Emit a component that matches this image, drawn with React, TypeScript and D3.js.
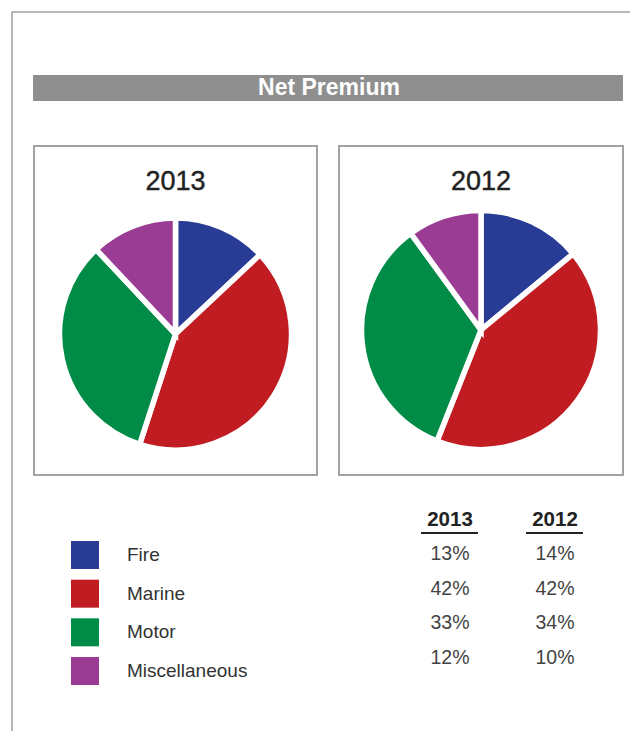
import React from "react";
import * as d3 from "d3";

const categories = ["Fire", "Marine", "Motor", "Miscellaneous"];
const colors = ["#283c96", "#c01c22", "#008c46", "#9a3c94"];
const years = ["2013", "2012"];
const values2013 = [13, 42, 33, 12];
const values2012 = [14, 42, 34, 10];
const seriesValues = [values2013, values2012];
const title = "Net Premium";

const W = 630;
const H = 731;

const font = "'Liberation Sans', Arial, Helvetica, sans-serif";

const panels = [
  { x: 34, y: 146, w: 283, h: 329, cx: 175.5, cy: 334, r: 116 },
  { x: 339, y: 146, w: 284, h: 329, cx: 481, cy: 330, r: 119.5 },
];

function Pie({ values, panel, year }) {
  const pie = d3.pie<number>().sort(null).value((d) => d);
  const arcs = pie(values);
  const arc = d3.arc<d3.PieArcDatum<number>>().innerRadius(0).outerRadius(panel.r);
  return (
    <g>
      <rect x={panel.x} y={panel.y} width={panel.w} height={panel.h} fill="#fff" stroke="#999" strokeWidth={1.8} />
      <text x={panel.x + panel.w / 2} y={panel.y + 44} textAnchor="middle" fontFamily={font} fontSize={27} fill="#222" stroke="#222" strokeWidth={0.4}>
        {year}
      </text>
      <g transform={`translate(${panel.cx},${panel.cy})`}>
        {arcs.map((a, i) => (
          <path key={i} d={arc(a) || ""} fill={colors[i]} stroke="#fff" strokeWidth={5.5} strokeLinejoin="miter" />
        ))}
      </g>
    </g>
  );
}

export default function App() {
  const legendY = d3.scaleLinear().domain([0, 3]).range([541, 657]);
  const rowY = d3.scaleLinear().domain([0, 3]).range([560, 664]);
  const colX = d3.scalePoint<string>().domain(years).range([450, 555]);
  return (
    <svg width={W} height={H} style={{ position: "absolute", left: 0, top: 0 }} xmlns="http://www.w3.org/2000/svg">
      <rect x={0} y={0} width={W} height={H} fill="#fff" />
      <path d={`M12,${H} L12,12 L${W},12`} fill="none" stroke="#a0a0a0" strokeWidth={1.5} />
      <rect x={33} y={75} width={590} height={26} fill="#8f8f8f" />
      <text x={329} y={95} textAnchor="middle" fontFamily={font} fontWeight="bold" fontSize={23} fill="#fff">
        {title}
      </text>
      {years.map((y, i) => (
        <Pie key={y} values={seriesValues[i]} panel={panels[i]} year={y} />
      ))}
      {categories.map((c, i) => (
        <g key={c}>
          <rect x={71} y={legendY(i)} width={28} height={28} fill={colors[i]} />
          <text x={127} y={legendY(i) + 20} fontFamily={font} fontSize={19} fill="#333">
            {c}
          </text>
        </g>
      ))}
      {years.map((y, j) => (
        <g key={y}>
          <text x={colX(y)} y={526} textAnchor="middle" fontFamily={font} fontWeight="bold" fontSize={20.5} fill="#222">
            {y}
          </text>
          <line x1={(colX(y) as number) - 29} x2={(colX(y) as number) + 28} y1={533} y2={533} stroke="#222" strokeWidth={2} />
          {seriesValues[j].map((v, i) => (
            <text key={i} x={colX(y)} y={rowY(i)} textAnchor="middle" fontFamily={font} fontSize={19.5} fill="#444">
              {v}%
            </text>
          ))}
        </g>
      ))}
    </svg>
  );
}
